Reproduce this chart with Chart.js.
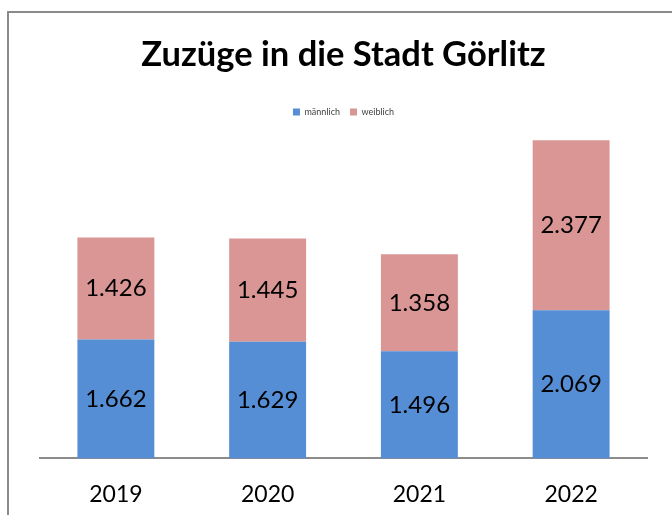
<!DOCTYPE html>
<html lang="de">
<head>
    <meta charset="UTF-8">
    <title>Zuzüge in die Stadt Görlitz</title>
    <script src="https://cdn.jsdelivr.net/npm/chart.js"></script>
    <style>
        html, body {
            margin: 0;
            padding: 0;
            background: #ffffff;
            overflow: hidden;
        }
        #rahmen {
            position: absolute;
            left: 7px;
            top: 11px;
            width: 700px;
            height: 540px;
            border: 2px solid #8a8a8a;
        }
        #wrap {
            position: absolute;
            left: 0;
            top: 0;
            width: 672px;
            height: 515px;
        }
    </style>
</head>
<body>
    <div id="rahmen"></div>
    <div id="wrap"><canvas id="grafico" width="672" height="515"></canvas></div>

    <script>
        const jahre = ["2019", "2020", "2021", "2022"];
        const maennlich = [1662, 1629, 1496, 2069];
        const weiblich = [1426, 1445, 1358, 2377];

        function formatDe(n) {
            return String(n).replace(/\B(?=(\d{3})+(?!\d))/g, ".");
        }

        // Werte mittig in die Segmente schreiben
        const wertePlugin = {
            id: "werte",
            afterDatasetsDraw(chart) {
                const ctx = chart.ctx;
                ctx.save();
                ctx.font = "24px Lato";
                ctx.fillStyle = "#000000";
                ctx.textAlign = "center";
                ctx.textBaseline = "middle";
                chart.data.datasets.forEach((ds, i) => {
                    chart.getDatasetMeta(i).data.forEach((bar, j) => {
                        const mitte = (bar.y + bar.base) / 2;
                        ctx.fillText(formatDe(ds.data[j]), bar.x, mitte);
                    });
                });
                ctx.restore();
            }
        };

        new Chart(document.getElementById("grafico"), {
            type: "bar",
            data: {
                labels: jahre,
                datasets: [
                    { label: "männlich", data: maennlich, backgroundColor: "#558ed5" },
                    { label: "weiblich", data: weiblich, backgroundColor: "#d99694" }
                ]
            },
            options: {
                responsive: false,
                animation: false,
                layout: { padding: { left: 40, right: 25, top: 0, bottom: -15 } },
                datasets: {
                    bar: { categoryPercentage: 1, barPercentage: 0.507 }
                },
                plugins: {
                    title: {
                        display: true,
                        text: "Zuzüge in die Stadt Görlitz",
                        color: "#000000",
                        font: { family: "Lato", size: 34.5, weight: "bold" },
                        padding: { top: 34, bottom: 22 }
                    },
                    legend: {
                        labels: {
                            color: "#404040",
                            font: { family: "Lato", size: 9 },
                            boxWidth: 7,
                            boxHeight: 7,
                            padding: 10
                        }
                    },
                    tooltip: { enabled: false }
                },
                scales: {
                    x: {
                        stacked: true,
                        grid: { display: false, drawTicks: false },
                        border: { display: true, color: "#8c8c8c", width: 2 },
                        ticks: { color: "#000000", font: { family: "Lato", size: 23 }, padding: 22 }
                    },
                    y: {
                        stacked: true,
                        display: false,
                        min: 0,
                        max: 4640
                    }
                }
            },
            plugins: [wertePlugin]
        });
    </script>
</body>
</html>
